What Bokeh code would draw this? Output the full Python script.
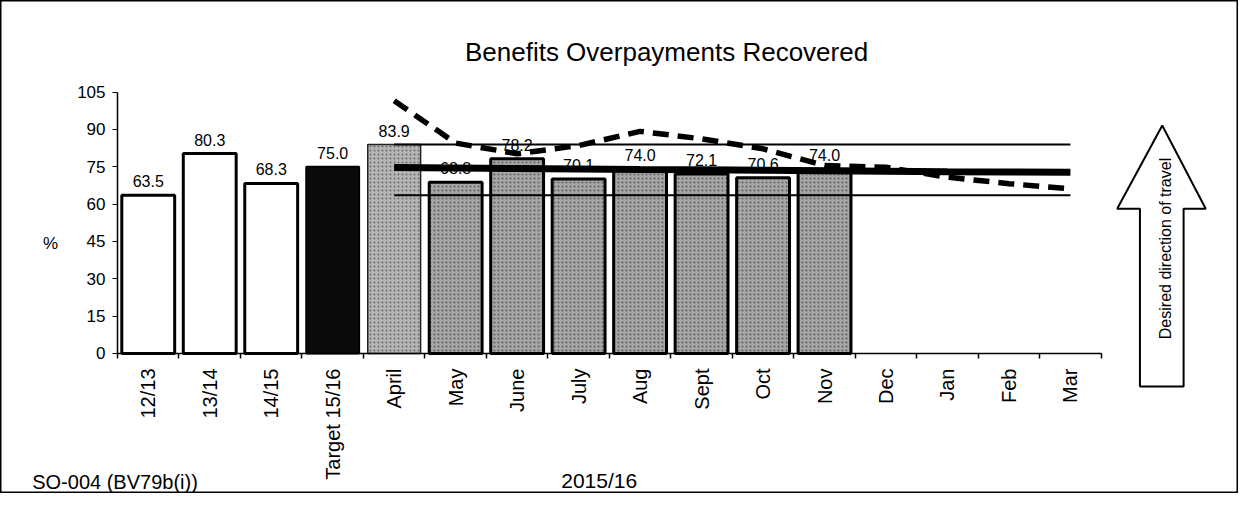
from math import pi
from bokeh.plotting import figure
from bokeh.models import Range1d, LinearAxis, FixedTicker, ColumnDataSource
from bokeh.core.properties import value
from bokeh.embed import file_html
from bokeh.resources import INLINE

# ---------------- data ----------------
categories = ["12/13", "13/14", "14/15", "Target 15/16", "April", "May", "June",
              "July", "Aug", "Sept", "Oct", "Nov", "Dec", "Jan", "Feb", "Mar"]
history_values = [63.5, 80.3, 68.3]          # 12/13, 13/14, 14/15
target_value = [75.0]                         # Target 15/16
month_values = [83.9, 68.8, 78.2, 70.1, 74.0, 72.1, 70.6, 74.0]   # April..Nov
# lines over the 12 months April..Mar
upper_line = [83.9, 83.9, 83.9, 83.9, 83.9, 83.9, 83.9, 83.9, 83.9, 83.9, 83.9, 83.9]
thick_line = [74.7, 74.5, 74.3, 74.1, 73.9, 73.8, 73.6, 73.4, 73.2, 73.0, 72.9, 72.8]
lower_line = [63.5, 63.5, 63.5, 63.5, 63.5, 63.5, 63.5, 63.5, 63.5, 63.5, 63.5, 63.5]
dashed_line = [101.5, 84.5, 80.2, 83.5, 89.2, 86.2, 82.2, 75.5, 74.8, 70.8, 68.2, 66.1]
y_ticks = [0, 15, 30, 45, 60, 75, 90, 105]

title_text = "Benefits Overpayments Recovered"
code_text = "SO-004 (BV79b(i))"
period_text = "2015/16"
arrow_text = "Desired direction of travel"

FONT = "Liberation Sans"

centers = [i + 0.5 for i in range(len(categories))]
boundaries = [i for i in range(len(categories) + 1)]
hist_x = centers[0:3]
target_x = centers[3:4]
april_x = centers[4:5]
month_x = centers[5:12]
line_x = centers[4:16]

W, H = 1238, 493
p = figure(width=W, height=H, output_backend="svg", toolbar_location=None,
           x_axis_type=None, y_axis_type=None,
           x_range=Range1d(-1.903, 18.233), y_range=Range1d(-56.22, 141.75),
           min_border=0, min_border_left=0, min_border_right=0,
           min_border_top=0, min_border_bottom=0)
p.outline_line_color = "black"
p.outline_line_width = 2
p.background_fill_color = "white"
p.border_fill_color = "white"

# ---------------- bars ----------------
BW = 0.86
p.vbar(x=hist_x, top=history_values, width=BW, fill_color="white",
       line_color="black", line_width=3)
p.vbar(x=target_x, top=target_value, width=BW, fill_color="#0a0a0a",
       line_color="black", line_width=2)
p.vbar(x=april_x, top=month_values[0:1], width=BW, fill_color="#b5b5b5",
       line_color="#222222", line_width=1.5,
       hatch_pattern="dot", hatch_color="#6f6f6f", hatch_scale=4, hatch_weight=1)
p.vbar(x=month_x, top=month_values[1:], width=BW, fill_color="#a6a6a6",
       line_color="black", line_width=3,
       hatch_pattern="dot", hatch_color="#5f5f5f", hatch_scale=4, hatch_weight=1)

# ---------------- lines ----------------
p.line(line_x, upper_line, line_color="black", line_width=2)
p.line(line_x, lower_line, line_color="black", line_width=2)
p.line(line_x, thick_line, line_color="black", line_width=7)
p.line(line_x, dashed_line, line_color="black", line_width=5.5, line_dash="16 9")

# ---------------- data labels ----------------
bar_x = hist_x + target_x + april_x + month_x
bar_v = history_values + target_value + month_values
lab_src = ColumnDataSource(dict(x=bar_x, y=bar_v, t=["%.1f" % v for v in bar_v]))
p.text(x="x", y="y", text="t", source=lab_src, text_align="center",
       text_baseline="alphabetic", y_offset=-14,
       text_font=value(FONT), text_font_size="16px", text_color="black")

# ---------------- axes ----------------
yaxis = LinearAxis(fixed_location=0, bounds=(0, 105), ticker=FixedTicker(ticks=y_ticks))
yaxis.axis_line_color = "black"
yaxis.axis_line_width = 1.5
yaxis.major_tick_out = 5
yaxis.major_tick_in = 0
yaxis.minor_tick_line_color = None
yaxis.major_label_standoff = 7
yaxis.major_label_text_font = FONT
yaxis.major_label_text_font_size = "17px"
yaxis.major_label_text_color = "black"
p.add_layout(yaxis, "left")

xaxis = LinearAxis(fixed_location=0, bounds=(0, 16),
                   ticker=FixedTicker(ticks=centers, minor_ticks=boundaries),
                   major_label_overrides={c: n for c, n in zip(centers, categories)})
xaxis.axis_line_color = "black"
xaxis.axis_line_width = 1.5
xaxis.major_tick_line_color = None
xaxis.major_tick_out = 0
xaxis.major_tick_in = 0
xaxis.minor_tick_line_color = "black"
xaxis.minor_tick_line_width = 1.5
xaxis.minor_tick_out = 5
xaxis.minor_tick_in = 0
xaxis.major_label_orientation = pi / 2
xaxis.major_label_standoff = 10
xaxis.major_label_text_font = FONT
xaxis.major_label_text_font_size = "20px"
xaxis.major_label_text_color = "black"
p.add_layout(xaxis, "below")

# ---------------- texts ----------------
p.text(x=[8.93], y=[121.0], text=[title_text], text_align="center",
       text_baseline="alphabetic", text_font=value(FONT), text_font_size="26px",
       text_color="black")
p.text(x=[-1.09], y=[44.2], text=["%"], text_align="center", text_baseline="middle",
       text_font=value(FONT), text_font_size="17px", text_color="black")
p.text(x=[-1.387], y=[-51.6], text=[code_text], text_align="left",
       text_baseline="alphabetic", text_font=value(FONT), text_font_size="20px",
       text_color="black")
p.text(x=[7.835], y=[-51.2], text=[period_text], text_align="center",
       text_baseline="alphabetic", text_font=value(FONT), text_font_size="21px",
       text_color="black")

# ---------------- arrow ----------------
ax = [16.993, 17.70, 17.34, 17.34, 16.63, 16.63, 16.26]
ay = [91.57, 58.11, 58.11, -13.25, -13.25, 58.11, 58.11]
p.patch(ax, ay, fill_color="white", line_color="black", line_width=2)
p.text(x=[17.05], y=[42.17], text=[arrow_text], angle=pi / 2, text_align="center",
       text_baseline="middle", text_font=value(FONT), text_font_size="16px",
       text_color="black")

open("out.html", "w").write(file_html(p, INLINE))
